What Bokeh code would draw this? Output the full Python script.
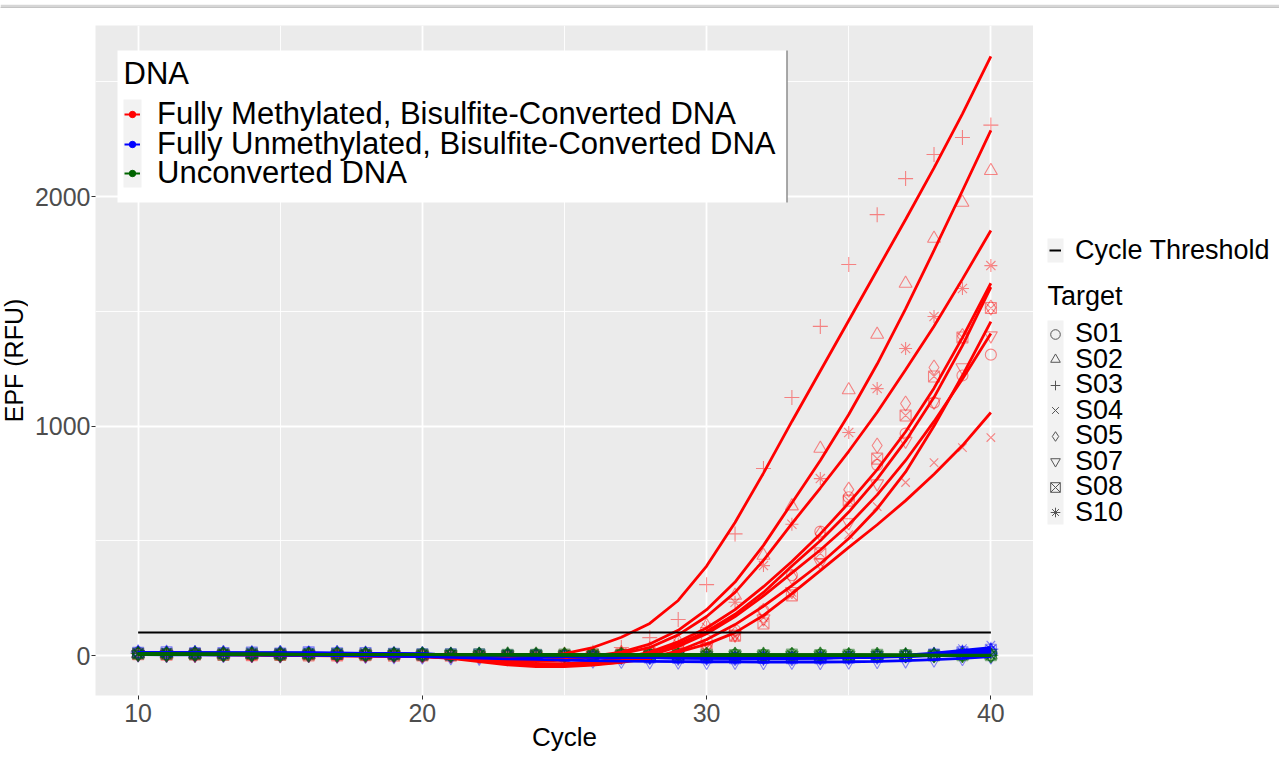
import math
from bokeh.plotting import figure
from bokeh.models import (Range1d, FixedTicker, Legend, LegendItem, ColumnDataSource,
                          BoxAnnotation, Label)
from bokeh.layouts import row, column
from bokeh.embed import file_html
from bokeh.resources import INLINE

# ---------------- data ----------------
cycles = list(range(10, 41))
targets = ["S01", "S02", "S03", "S04", "S05", "S07", "S08", "S10"]
dna_types = ["Fully Methylated, Bisulfite-Converted DNA",
             "Fully Unmethylated, Bisulfite-Converted DNA",
             "Unconverted DNA"]
threshold = 100
x_ticks = [10, 20, 30, 40]
x_minor = [15, 25, 35]
y_ticks = [0, 1000, 2000]
y_minor = [500, 1500, 2500]
x_title = "Cycle"
y_title = "EPF (RFU)"

# Fully methylated: measured points (cycles 10..40)
meth_pts = {
    "S01": [6, 4, 3, 5, 2, 1, 3, -1, 0, 2, -2, 0, -3, -4, -3, -1, 2, 6, 15, 35, 68, 110, 196, 350, 540, 690, 830, 967, 1102, 1220, 1311],
    "S02": [8, 5, 6, 4, 3, 4, 2, 1, 3, 0, 1, -1, 0, -2, -1, 2, 5, 12, 28, 62, 130, 262, 436, 651, 902, 1157, 1399, 1621, 1817, 1974, 2112],
    "S03": [10, 7, 5, 8, 4, 3, 5, 2, 1, 3, 2, 1, 0, 2, 3, 6, 14, 35, 78, 157, 309, 530, 815, 1124, 1434, 1704, 1921, 2078, 2183, 2257, 2311],
    "S04": [4, 2, 1, 3, 0, -1, 1, -2, -1, 0, -3, -2, -4, -5, -4, -3, -1, 1, 5, 12, 35, 80, 165, 275, 400, 527, 649, 754, 841, 906, 950],
    "S05": [7, 5, 4, 6, 3, 2, 4, 1, 2, 1, 0, 1, -1, -2, -1, 0, 2, 5, 10, 14, 38, 95, 195, 342, 530, 723, 915, 1098, 1255, 1392, 1516],
    "S07": [5, 3, 2, 4, 1, 0, 2, -1, 0, 1, -1, -2, -3, -4, -3, -2, 0, 3, 8, 15, 40, 90, 161, 280, 405, 580, 749, 935, 1105, 1255, 1394],
    "S08": [6, 4, 5, 3, 2, 3, 1, 0, 2, -1, 0, -1, -2, -3, -2, 0, 3, 6, 11, 16, 32, 87, 140, 262, 445, 675, 858, 1046, 1216, 1386, 1514],
    "S10": [9, 6, 5, 7, 4, 3, 4, 2, 3, 1, 2, 0, 1, -1, 0, 3, 6, 10, 16, 50, 122, 232, 392, 572, 771, 972, 1163, 1338, 1477, 1599, 1699],
}
# Fully methylated: fitted curves (cycles 10..40)
meth_fit = {
    "S01": [8, 7, 6, 5, 4, 3, 2, 1, 0, -1, -3, -9, -20, -32, -40, -42, -35, -22, 0, 40, 95, 170, 260, 360, 460, 570, 700, 850, 1020, 1205, 1403],
    "S02": [9, 8, 7, 6, 5, 4, 3, 2, 1, 0, -2, -6, -12, -18, -20, -15, -3, 15, 50, 110, 200, 320, 480, 665, 850, 1050, 1270, 1510, 1765, 2025, 2288],
    "S03": [8, 7, 6, 5, 4, 3, 2, 1, 0, -1, -2, -4, -7, -8, -5, 8, 35, 80, 140, 240, 390, 580, 795, 1020, 1240, 1460, 1680, 1900, 2125, 2360, 2611],
    "S04": [6, 5, 4, 3, 2, 1, 0, -1, -2, -3, -5, -12, -26, -40, -48, -48, -42, -30, -12, 15, 50, 100, 175, 270, 370, 471, 570, 675, 790, 915, 1059],
    "S05": [7, 6, 5, 5, 4, 3, 2, 1, 0, -1, -3, -7, -16, -28, -35, -35, -28, -12, 15, 60, 120, 200, 300, 410, 530, 665, 810, 975, 1165, 1385, 1622],
    "S07": [6, 6, 5, 4, 3, 2, 1, 0, -1, -2, -4, -10, -22, -35, -44, -44, -38, -28, -10, 20, 70, 135, 215, 305, 400, 510, 640, 800, 1000, 1220, 1455],
    "S08": [7, 6, 6, 5, 4, 3, 2, 1, 0, -1, -3, -8, -18, -30, -38, -38, -30, -15, 10, 50, 105, 180, 275, 390, 500, 625, 770, 935, 1125, 1350, 1605],
    "S10": [8, 7, 7, 6, 5, 4, 3, 2, 1, 0, -2, -6, -14, -22, -25, -20, -8, 8, 35, 90, 170, 275, 415, 575, 730, 890, 1060, 1245, 1435, 1640, 1852],
}
# Fully unmethylated: points and fitted curves
unmeth_pts = {
    "S01": [14, 10, 12, 9, 11, 8, 13, 10, 7, 9, 6, 4, 3, 1, -1, -3, -6, -7, -9, -8, -11, -10, -12, -9, -11, -8, -6, -3, 1, 8, 16],
    "S02": [10, 13, 9, 12, 8, 11, 9, 12, 8, 6, 7, 3, 2, -1, 0, -4, -5, -9, -7, -10, -9, -12, -10, -13, -9, -10, -5, -2, 3, 12, 22],
    "S03": [15, 11, 13, 10, 12, 9, 11, 8, 10, 7, 5, 6, 2, 1, -2, -2, -4, -7, -8, -11, -9, -10, -13, -11, -8, -9, -4, 0, 6, 15, 28],
    "S04": [11, 12, 8, 13, 9, 10, 12, 9, 8, 8, 4, 5, 1, 0, -3, -5, -5, -6, -10, -9, -12, -9, -11, -10, -12, -7, -3, 2, 10, 30, 45],
    "S05": [13, 9, 11, 10, 10, 12, 8, 11, 9, 5, 7, 2, 3, -2, -1, -3, -7, -8, -6, -9, -10, -11, -9, -12, -10, -8, -6, -1, 2, 10, 20],
    "S07": [4, 2, 3, 1, 2, 0, 1, -1, -2, -4, -5, -8, -10, -13, -16, -19, -22, -24, -26, -27, -28, -28, -29, -28, -29, -27, -25, -22, -18, -12, -5],
    "S08": [12, 14, 10, 11, 13, 9, 14, 10, 11, 8, 6, 5, 4, 0, 1, -2, -5, -6, -8, -10, -8, -11, -10, -11, -12, -9, -5, -3, 4, 14, 25],
    "S10": [10, 11, 14, 9, 10, 11, 10, 9, 9, 6, 6, 4, 1, -1, -2, -4, -3, -8, -9, -7, -10, -9, -11, -10, -9, -8, -5, -2, 5, 13, 26],
}
unmeth_fit = {
    "S01": [12, 12, 11, 11, 10, 10, 10, 9, 8, 7, 6, 4, 2, 0, -2, -4, -6, -8, -9, -10, -10, -11, -11, -11, -10, -9, -7, -4, 0, 6, 14],
    "S02": [11, 11, 11, 10, 10, 10, 9, 9, 8, 7, 5, 4, 2, 0, -2, -4, -6, -8, -9, -10, -11, -11, -11, -11, -10, -9, -6, -2, 3, 10, 20],
    "S03": [13, 13, 12, 12, 11, 11, 10, 10, 9, 7, 6, 4, 2, 0, -2, -4, -6, -7, -9, -10, -10, -11, -11, -10, -10, -8, -5, -1, 5, 14, 25],
    "S04": [11, 11, 11, 11, 10, 10, 10, 9, 8, 7, 5, 4, 2, 0, -2, -4, -6, -8, -9, -10, -10, -11, -11, -11, -10, -8, -4, 2, 10, 22, 35],
    "S05": [12, 12, 11, 11, 11, 10, 10, 9, 8, 7, 6, 4, 2, 0, -2, -4, -6, -7, -8, -9, -10, -10, -11, -11, -10, -9, -6, -3, 2, 9, 18],
    "S07": [4, 3, 3, 2, 2, 1, 1, 0, -1, -3, -5, -8, -11, -14, -17, -20, -22, -24, -25, -26, -27, -27, -28, -28, -28, -27, -25, -22, -18, -12, -4],
    "S08": [12, 12, 12, 11, 11, 11, 10, 10, 9, 8, 6, 4, 2, 0, -2, -4, -6, -7, -8, -9, -10, -10, -11, -11, -10, -9, -6, -2, 4, 12, 22],
    "S10": [11, 11, 11, 11, 10, 10, 10, 9, 9, 7, 6, 4, 2, 0, -2, -4, -5, -7, -8, -9, -10, -10, -11, -10, -10, -8, -5, -1, 4, 13, 28],
}
# Unconverted: points and fitted curves
unconv_pts = {
    "S01": [8, 5, 7, 4, 6, 3, 9, 5, 6, 4, 7, 3, 5, 2, 6, 4, 3, 5, 2, 6, 3, 4, 2, 5, 3, 4, 2, 3, 1, 2, 0],
    "S02": [6, 8, 4, 7, 5, 6, 4, 8, 3, 6, 4, 5, 3, 6, 2, 5, 4, 3, 5, 2, 4, 3, 5, 2, 4, 2, 3, 1, 2, 1, 2],
    "S03": [9, 6, 8, 5, 7, 4, 6, 5, 7, 3, 5, 4, 6, 3, 4, 2, 5, 3, 4, 3, 2, 5, 3, 4, 2, 3, 1, 3, 2, 0, 1],
    "S04": [5, 7, 6, 8, 4, 7, 5, 6, 4, 7, 3, 6, 4, 5, 3, 4, 2, 4, 3, 5, 4, 2, 4, 3, 5, 3, 2, 2, 3, 1, 3],
    "S05": [7, 4, 9, 6, 5, 8, 3, 6, 5, 4, 6, 2, 4, 4, 5, 3, 4, 2, 6, 3, 3, 4, 2, 3, 4, 1, 3, 2, 0, 2, 1],
    "S07": [6, 6, 5, 7, 6, 4, 7, 4, 6, 5, 3, 5, 2, 4, 4, 3, 3, 4, 2, 4, 2, 3, 3, 2, 3, 2, 2, 1, 2, 1, 0],
    "S08": [8, 7, 6, 5, 8, 5, 6, 7, 5, 5, 4, 4, 5, 3, 3, 4, 5, 2, 3, 3, 4, 2, 2, 4, 2, 3, 3, 2, 1, 2, 2],
    "S10": [7, 9, 5, 6, 7, 6, 8, 3, 5, 6, 5, 3, 4, 5, 2, 3, 4, 4, 3, 2, 3, 4, 3, 3, 2, 4, 2, 3, 2, 1, 1],
}
unconv_fit = {
    "S01": [6, 6, 5, 5, 5, 5, 4, 4, 4, 4, 4, 3, 3, 3, 3, 3, 3, 3, 2, 2, 2, 2, 2, 2, 2, 2, 1, 1, 1, 1, 0],
    "S02": [5, 5, 5, 5, 5, 4, 4, 4, 4, 4, 4, 4, 3, 3, 3, 3, 3, 3, 3, 3, 2, 2, 2, 2, 2, 2, 2, 1, 1, 1, 1],
    "S03": [7, 7, 6, 6, 6, 5, 5, 5, 5, 4, 4, 4, 4, 4, 3, 3, 3, 3, 3, 3, 3, 3, 2, 2, 2, 2, 2, 2, 1, 1, 1],
    "S04": [6, 6, 6, 6, 6, 5, 5, 5, 5, 5, 4, 4, 4, 4, 4, 4, 3, 3, 3, 3, 3, 3, 3, 3, 3, 3, 2, 2, 2, 2, 2],
    "S05": [6, 6, 6, 5, 5, 5, 5, 5, 4, 4, 4, 4, 4, 3, 3, 3, 3, 3, 3, 3, 3, 2, 2, 2, 2, 2, 2, 2, 1, 1, 1],
    "S07": [6, 6, 5, 5, 5, 5, 5, 4, 4, 4, 4, 4, 3, 3, 3, 3, 3, 3, 3, 3, 2, 2, 2, 2, 2, 2, 2, 1, 1, 1, 1],
    "S08": [7, 6, 6, 6, 6, 6, 5, 5, 5, 5, 4, 4, 4, 4, 4, 3, 3, 3, 3, 3, 3, 3, 2, 2, 2, 2, 2, 2, 2, 1, 1],
    "S10": [7, 7, 6, 6, 6, 6, 5, 5, 5, 4, 4, 4, 4, 4, 3, 3, 3, 3, 3, 3, 3, 3, 3, 2, 2, 2, 2, 2, 1, 1, 1],
}

# ---------------- styles / geometry ----------------
FONT = "Liberation Sans"
dna_colors = ["#FF0000", "#0000FF", "#006400"]
markers = {"S01": "circle", "S02": "triangle", "S03": "cross", "S04": "x",
           "S05": "diamond", "S07": "inverted_triangle", "S08": "square_x", "S10": "asterisk"}
msize = {"S01": 11, "S02": 13, "S03": 15, "S04": 12, "S05": 15,
         "S07": 13, "S08": 11, "S10": 13}

PAGE_W, PAGE_H = 1279, 757
BAR_H = 8                      # grey strip on top of the screenshot
TITLE_W = 28                   # strip holding the rotated y title
FL, FT, FW, FH = 95, 25, 938, 670   # frame in page px
MAIN_W = FL + FW - TITLE_W
MAIN_H = PAGE_H - BAR_H
FB = FT + FH                   # frame bottom in page px
TOP_B = FT - BAR_H
BOT_B = MAIN_H - TOP_B - FH


def blank(width, bg="white"):
    f = figure(width=width, height=MAIN_H, output_backend="svg", toolbar_location=None,
               x_range=Range1d(0, 1), y_range=Range1d(0, 1),
               min_border_left=0, min_border_right=0, min_border_top=TOP_B, min_border_bottom=BOT_B,
               background_fill_color=bg, border_fill_color="white")
    f.axis.visible = False
    f.grid.visible = False
    f.outline_line_color = None
    return f


def box(x0, x1, y0, y1, color, left_page):
    # page px -> frame-relative screen units
    return BoxAnnotation(left=x0 - left_page, right=x1 - left_page, top=FB - y0, bottom=FB - y1,
                         left_units="screen", right_units="screen",
                         top_units="screen", bottom_units="screen",
                         fill_color=color, fill_alpha=1, line_color=None)


def key_source():
    # a single undrawable point, so that a legend key is drawn for the renderer
    return ColumnDataSource(dict(x=[math.nan], y=[math.nan]))


def row_legend(left_page, label, renderers, x_page, center_page, size_px, h, gw, standoff):
    return Legend(items=[LegendItem(label=label, renderers=renderers)],
                  location=(x_page - left_page, FB - (center_page + h / 2)),
                  label_text_font=FONT, label_text_font_size=f"{size_px}px",
                  label_text_color="black", label_standoff=standoff,
                  glyph_width=gw, glyph_height=h, label_height=h,
                  spacing=0, padding=0, margin=0,
                  background_fill_alpha=0, border_line_color=None)


def text_label(left_page, text, x_page, y_page, size_px, angle=0.0, align="left"):
    return Label(x=x_page - left_page, y=FB - y_page, x_units="screen", y_units="screen",
                 text=text, text_font=FONT, text_font_size=f"{size_px}px", text_color="black",
                 text_baseline="alphabetic", text_align=align, angle=angle)


# ---------------- top strip ----------------
bar = figure(width=PAGE_W, height=BAR_H, output_backend="svg", toolbar_location=None,
             x_range=Range1d(0, 1), y_range=Range1d(0, 1),
             min_border_left=0, min_border_right=0, min_border_top=3, min_border_bottom=1,
             background_fill_color="#9E9E9E", border_fill_color="#D6D6D6")
bar.axis.visible = False
bar.grid.visible = False
bar.outline_line_color = None

# ---------------- y title strip ----------------
ytitle = blank(TITLE_W)
ytitle.add_layout(text_label(0, y_title, 13, FT + FH / 2, 25, angle=math.pi / 2, align="center"))

# ---------------- main plot ----------------
PX = TITLE_W                   # page x of the main plot canvas
p = figure(width=MAIN_W, height=MAIN_H, x_range=Range1d(8.5, 41.5), y_range=Range1d(-174, 2745),
           output_backend="svg", toolbar_location=None,
           min_border_left=FL - PX, min_border_right=0,
           min_border_top=TOP_B, min_border_bottom=BOT_B,
           background_fill_color="#EBEBEB", border_fill_color="white")
p.outline_line_color = None

p.xaxis.ticker = FixedTicker(ticks=x_ticks, minor_ticks=x_minor)
p.yaxis.ticker = FixedTicker(ticks=y_ticks, minor_ticks=y_minor)
for g in (p.xgrid, p.ygrid):
    g.grid_line_color = "white"
    g.grid_line_width = 1.8
    g.minor_grid_line_color = "white"
    g.minor_grid_line_width = 0.9
for ax in (p.xaxis, p.yaxis):
    ax.axis_line_color = None
    ax.major_tick_line_color = "#333333"
    ax.major_tick_line_width = 1
    ax.major_tick_out = 4
    ax.major_tick_in = 0
    ax.minor_tick_out = 0
    ax.minor_tick_in = 0
    ax.major_label_text_font = FONT
    ax.major_label_text_font_size = "25px"
    ax.major_label_text_color = "#4D4D4D"
    ax.axis_label_text_font = FONT
    ax.axis_label_text_font_style = "normal"
    ax.axis_label_text_color = "black"
p.xaxis.axis_label = x_title
p.xaxis.axis_label_text_font_size = "26px"
p.xaxis.major_label_standoff = 4
p.yaxis.major_label_standoff = 1
p.xaxis.axis_label_standoff = -3

# data glyphs
pts_sets = [meth_pts, unmeth_pts, unconv_pts]
fit_sets = [meth_fit, unmeth_fit, unconv_fit]
for pts, col in zip(pts_sets, dna_colors):
    for t in targets:
        p.scatter(cycles, pts[t], marker=markers[t], size=msize[t],
                  line_color=col, line_alpha=0.45, line_width=1.1, fill_alpha=0)
for fit, col in zip(fit_sets, dna_colors):
    for t in targets:
        p.line(cycles, fit[t], line_color=col, line_width=2.8)
p.line([cycles[0], cycles[-1]], [threshold, threshold], line_color="black", line_width=2)

# DNA legend (inside the panel)
p.add_layout(box(117, 787, 50, 202, "white", FL))
p.add_layout(box(786, 787, 50, 202, "#555555", FL))
p.add_layout(box(123, 141, 99, 187, "#F2F2F2", FL))
p.add_layout(text_label(FL, "DNA", 123, 73, 31))
dna_centers = [114, 143.5, 173]
for lab, col, c in zip(dna_types, dna_colors, dna_centers):
    rl = p.line(x="x", y="y", source=key_source(), line_color=col, line_width=2)
    rd = p.scatter(x="x", y="y", source=key_source(), marker="circle", size=4, color=col)
    p.add_layout(row_legend(FL, lab, [rl, rd], 124, c, 31, 38, 16, 17))

# ---------------- right legend panel ----------------
RX = FL + FW
side = blank(PAGE_W - RX)
side.add_layout(box(1047, 1063, 238, 262, "#F2F2F2", RX))
side.add_layout(box(1047, 1063, 320, 524, "#F2F2F2", RX))

thr_key = side.line(x="x", y="y", source=key_source(), line_color="black", line_width=2)
side.add_layout(row_legend(RX, "Cycle Threshold", [thr_key], 1049, 250, 27, 32, 12, 14))
side.add_layout(text_label(RX, "Target", 1047, 295, 27))
tgt_centers = [333.5, 359, 384.5, 410, 435.5, 461, 486.5, 512]
for t, c in zip(targets, tgt_centers):
    r = side.scatter(x="x", y="y", source=key_source(), marker=markers[t],
                     line_color="#555555", line_alpha=1, fill_alpha=0, line_width=1)
    side.add_layout(row_legend(RX, t, [r], 1043, c, 27, 32, 24, 8))

layout = column(bar, row(ytitle, p, side, spacing=0), spacing=0)
layout.styles = {"position": "absolute", "left": "0px", "top": "0px"}

open("out.html", "w").write(file_html(layout, INLINE))
